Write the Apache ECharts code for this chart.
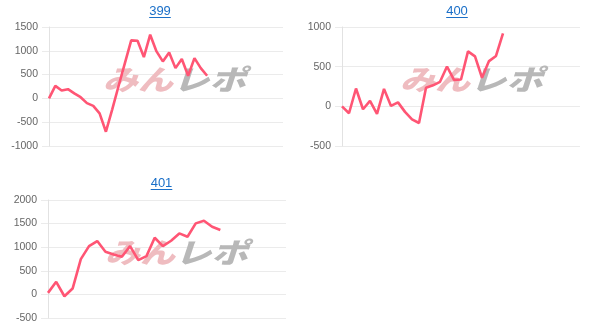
<!DOCTYPE html>
<html>
<head>
<meta charset="utf-8">
<script src="https://cdn.jsdelivr.net/npm/echarts@6/dist/echarts.min.js"></script>
<style>
html,body{margin:0;padding:0;background:#fff;}
#c{width:610px;height:334px;}
</style>
</head>
<body>
<div id="c"></div>
<script>
// ---- data ----
const titles = ['399', '400', '401'];
const cats399 = Array.from({length: 38}, (_, i) => String(i + 1));
const cats400 = Array.from({length: 35}, (_, i) => String(i + 1));
const cats401 = Array.from({length: 30}, (_, i) => String(i + 1));
const vals399 = [0, 263, 166, 194, 105, 25, -100, -157, -313, -700, -230, 260, 740, 1220, 1212, 868, 1338, 987, 777, 966, 636, 826, 475, 847, 636, 475];
const vals400 = [0, -87, 225, -37, 69, -95, 220, 5, 50, -70, -165, -210, 235, 265, 309, 502, 333, 338, 692, 630, 360, 570, 635, 920];
const vals401 = [32, 266, -39, 124, 747, 1023, 1130, 903, 846, 797, 1023, 726, 811, 1200, 1023, 1137, 1292, 1221, 1505, 1562, 1434, 1363];
const yTicks399 = {min: -1000, max: 1500, interval: 500};
const yTicks400 = {min: -500, max: 1000, interval: 500};
const yTicks401 = {min: -500, max: 2000, interval: 500};

const LINK = '#1a6fc8';
const LINE = '#ff5574';
const GRID = '#ebebeb';
const FONT = '"Liberation Sans", Arial, sans-serif';

const grids = [
  {left: 49, top: 27, width: 234, height: 119},
  {left: 342, top: 27, width: 238, height: 119},
  {left: 48, top: 200, width: 238, height: 118}
];
const titlePos = [
  {cx: 160, top: 4.5, uy: 17.5},
  {cx: 457, top: 4.5, uy: 17.5},
  {cx: 161.5, top: 176.5, uy: 189.5}
];
const marks = [
  {x: 103, y: 65},
  {x: 400, y: 65},
  {x: 105, y: 238}
];
const cats = [cats399, cats400, cats401];
const vals = [vals399, vals400, vals401];
const yt = [yTicks399, yTicks400, yTicks401];

const option = {
  animation: false,
  backgroundColor: '#fff',
  title: titles.map((t, i) => ({
    text: t,
    left: titlePos[i].cx,
    top: titlePos[i].top,
    textAlign: 'center',
    padding: 0,
    textStyle: {color: LINK, fontSize: 13, fontWeight: 'normal', fontFamily: FONT}
  })),
  grid: grids,
  xAxis: cats.map((c, i) => ({
    type: 'category', gridIndex: i, data: c, boundaryGap: false,
    axisLine: {show: false}, axisTick: {show: false}, axisLabel: {show: false},
    splitLine: {show: false}
  })),
  yAxis: yt.map((y, i) => ({
    type: 'value', gridIndex: i, min: y.min, max: y.max, interval: y.interval,
    axisLine: {show: true, lineStyle: {color: '#e2e2e2', width: 1}},
    axisTick: {show: true, length: 7, lineStyle: {color: GRID}},
    axisLabel: {color: '#666', fontSize: 10.5, margin: 11, fontFamily: FONT,
      formatter: (v) => String(v)},
    splitLine: {show: true, lineStyle: {color: GRID, width: 1}}
  })),
  graphic: [],
  series: vals.map((v, i) => ({
    type: 'line', xAxisIndex: i, yAxisIndex: i, data: v,
    symbol: 'none', smooth: false, z: 5,
    lineStyle: {color: LINE, width: 2.6}
  }))
};

titlePos.forEach((p) => {
  option.graphic.push({
    type: 'line', z: 10,
    shape: {x1: p.cx - 10.8, y1: p.uy, x2: p.cx + 10.8, y2: p.uy},
    style: {stroke: LINK, lineWidth: 1}
  });
});
marks.forEach((m) => {
  option.graphic.push({
    type: 'text', z: 1, x: m.x, y: m.y, scaleX: 1.25,
    style: {text: 'みん', fill: '#efbcc0', font: 'italic 900 28px "Noto Sans CJK JP"'}
  });
  option.graphic.push({
    type: 'text', z: 1, x: m.x + 70, y: m.y, scaleX: 1.3,
    style: {text: 'レポ', fill: '#b8b8b8', font: 'italic 900 28px "Noto Sans CJK JP"'}
  });
});

const chart = echarts.init(document.getElementById('c'), null, {renderer: 'canvas'});
chart.setOption(option);
</script>
</body>
</html>
